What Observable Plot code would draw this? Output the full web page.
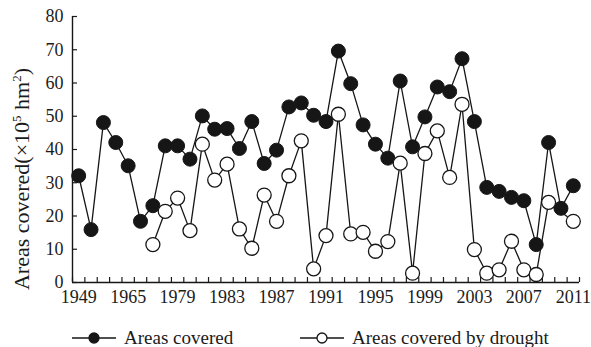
<!DOCTYPE html>
<html><head><meta charset="utf-8">
<script src="https://cdn.jsdelivr.net/npm/d3@7"></script>
<script src="https://cdn.jsdelivr.net/npm/@observablehq/plot@0.6"></script>
<style>
body{margin:0;background:#fff;font-family:"Liberation Serif","Times New Roman",serif;}
#chart{position:relative;width:591px;height:347px;background:#fff;}
.legend{position:absolute;left:0;top:325px;width:591px;height:25px;font-size:19px;color:#1a1a1a;}
.item{position:absolute;top:0;display:flex;align-items:center;height:25px;white-space:nowrap;}
.item span{margin-left:8px;}
</style></head><body><div id="chart"></div>
<script>
// x tick labels (every 4th position of the series)
const tickLabels = ["1949","1965","1979","1983","1987","1991","1995","1999","2003","2007","2011"];
// Areas covered (×10^5 hm^2), one value per position
const areasCovered = [32.1,15.9,48.1,42.1,35.1,18.4,23.1,41.1,41.1,37.1,50.1,46.1,46.3,40.3,48.4,35.8,39.8,52.8,54.0,50.3,48.4,69.6,59.8,47.4,41.6,37.4,60.6,40.8,49.8,58.8,57.4,67.3,48.4,28.6,27.4,25.6,24.6,11.4,42.1,22.3,29.1];
// Areas covered by drought (null = no value)
const areasDrought = [null,null,null,null,null,null,11.4,21.4,25.4,15.6,41.6,30.8,35.6,16.1,10.3,26.3,18.4,32.1,42.6,4.1,14.1,50.6,14.6,15.1,9.4,12.3,35.9,2.8,38.8,45.6,31.6,53.6,9.9,2.8,3.8,12.4,3.8,2.4,24.1,null,18.4];
const yTicks = [0,10,20,30,40,50,60,70,80];
const seriesNames = ["Areas covered","Areas covered by drought"];

const n = areasCovered.length;
const covered = areasCovered.map((v,i)=>({i, v}));
const drought = areasDrought.map((v,i)=>({i, v})).filter(d=>d.v!=null);
const edges = d3.range(n+1).map(k=>k-0.5);
const labelIdx = tickLabels.map((_,k)=>k*4);
const ink = "#161616";

const plot = Plot.plot({
  width: 591, height: 312,
  marginLeft: 72, marginRight: 12, marginTop: 16, marginBottom: 30,
  style: {fontFamily: "'Liberation Serif', serif", fontSize: "18px", color: "#1c1c1c", background: "white", overflow: "visible"},
  x: {domain: [-0.5, n-0.5]},
  y: {domain: [0, 80]},
  marks: [
    Plot.axisY({ticks: yTicks, tickSize: -5, tickFormat: () => "", label: null, strokeWidth: 1.2}),
    Plot.axisY({ticks: yTicks, tickSize: 0, tickPadding: 9, label: null}),
    Plot.axisX({ticks: edges, tickSize: -5, tickFormat: () => "", label: null, strokeWidth: 1.2}),
    Plot.axisX({ticks: labelIdx, tickSize: 0, tickPadding: 8, tickFormat: i => tickLabels[i/4], label: null}),
    Plot.ruleY([0], {stroke: ink, strokeWidth: 1.4}),
    Plot.ruleX([-0.5], {stroke: ink, strokeWidth: 1.4}),
    Plot.line(covered, {x: "i", y: "v", stroke: ink, strokeWidth: 1.3}),
    Plot.dot(covered, {x: "i", y: "v", r: 7, fill: ink, stroke: ink, strokeWidth: 1}),
    Plot.line(drought, {x: "i", y: "v", stroke: ink, strokeWidth: 1.3}),
    Plot.dot(drought, {x: "i", y: "v", r: 7, fill: "white", stroke: ink, strokeWidth: 1.3})
  ]
});
document.getElementById("chart").appendChild(plot);

// y-axis title with superscripts
const svg = d3.select(plot);
const t = svg.append("text")
  .attr("transform", "translate(29,179) rotate(-90)")
  .attr("text-anchor", "middle")
  .attr("font-size", 22)
  .attr("fill", "#1a1a1a")
  .attr("font-family", "'Liberation Serif', serif");
t.append("tspan").text("Areas covered(×10");
t.append("tspan").attr("dy", -8).attr("font-size", 13).text("5");
t.append("tspan").attr("dy", 8).text(" hm");
t.append("tspan").attr("dy", -8).attr("font-size", 13).text("2");
t.append("tspan").attr("dy", 8).text(")");

// legend below the plot
const legend = d3.select("#chart").append("div").attr("class", "legend");
const items = [{left: 72, fill: ink}, {left: 300, fill: "white"}];
seriesNames.forEach((name, k) => {
  const it = legend.append("div").attr("class", "item").style("left", items[k].left + "px");
  const s = it.append("svg").attr("width", 44).attr("height", 14);
  s.append("line").attr("x1", 0).attr("x2", 44).attr("y1", 7).attr("y2", 7).attr("stroke", ink).attr("stroke-width", 1.3);
  s.append("circle").attr("cx", 22).attr("cy", 7).attr("r", 5).attr("fill", items[k].fill).attr("stroke", ink).attr("stroke-width", 1.3);
  it.append("span").text(name);
});
</script>
</body></html>
